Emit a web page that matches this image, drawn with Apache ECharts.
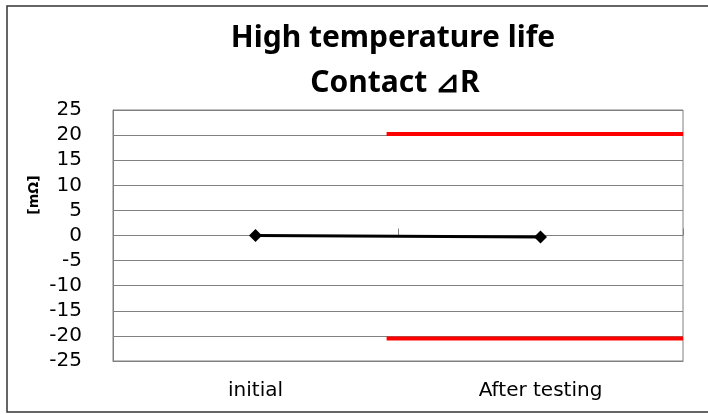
<!DOCTYPE html>
<html>
<head>
<meta charset="utf-8">
<script src="https://cdn.jsdelivr.net/npm/echarts@6/dist/echarts.min.js"></script>
<style>
  html, body { margin: 0; padding: 0; background: #fff; }
  #chart { width: 708px; height: 414px; }
</style>
</head>
<body>
<div id="chart"></div>
<script>
// 数据
const categories = ["initial", "After testing"];
const contactDeltaR = [0, -0.3];
// 上下限（红线），x 用 0..2 的数值轴表示
const upperLimit = [[0.96, 20.2], [2, 20.2]];
const lowerLimit = [[0.96, -20.5], [2, -20.5]];
const yTicks = { min: -25, max: 25, interval: 5 };

const chart = echarts.init(document.getElementById("chart"));

const options = {
  backgroundColor: "#fff",
  animation: false,
  title: [
    {
      text: "High temperature life",
      left: 388,
      top: 18,
      textAlign: "center",
      textStyle: { fontFamily: "Noto Sans", fontWeight: "bold", fontSize: 30, color: "#000" },
    },
    {
      text: "Contact ⊿R",
      left: 390,
      top: 63,
      textAlign: "center",
      textStyle: { fontFamily: "Noto Sans", fontWeight: "bold", fontSize: 30, color: "#000" },
    },
  ],
  grid: {
    top: 110,
    bottom: 53,
    left: 113,
    right: 25,
    show: true,
    borderColor: "#808080",
    borderWidth: 1,
  },
  graphic: [
    {
      type: "rect",
      shape: { x: 7, y: 6, width: 710, height: 406 },
      style: { fill: "none", stroke: "#333", lineWidth: 1.5 },
      z: 100,
    },
    {
      // y 轴单位，竖排
      type: "text",
      x: 34,
      y: 195,
      rotation: Math.PI / 2,
      style: {
        text: "[mΩ]",
        fontFamily: "DejaVu Sans",
        fontWeight: "bold",
        fontSize: 14,
        fill: "#000",
        align: "center",
        verticalAlign: "middle",
      },
    },
  ],
  xAxis: [
    {
      type: "category",
      data: categories,
      position: "bottom",
      axisLine: { onZero: false, lineStyle: { color: "#808080" } },
      axisTick: { show: false },
      axisLabel: {
        color: "#000",
        fontFamily: "DejaVu Sans",
        fontSize: 20,
        margin: 20,
      },
    },
    {
      // 零线上的刻度
      type: "category",
      data: categories,
      position: "bottom",
      axisLine: { show: false, onZero: true },
      axisTick: { show: true, inside: true, length: 7, lineStyle: { color: "#808080" } },
      axisLabel: { show: false },
    },
    {
      type: "value",
      min: 0,
      max: 2,
      show: false,
    },
  ],
  yAxis: {
    type: "value",
    min: yTicks.min,
    max: yTicks.max,
    interval: yTicks.interval,
    axisLine: { show: true, lineStyle: { color: "#808080" } },
    axisTick: { show: false },
    splitLine: { lineStyle: { color: "#808080", width: 1 } },
    axisLabel: {
      color: "#000",
      fontFamily: "DejaVu Sans",
      fontSize: 20,
      margin: 31,
    },
  },
  series: [
    {
      name: "upper",
      type: "line",
      xAxisIndex: 2,
      data: upperLimit,
      symbol: "none",
      lineStyle: { color: "#ff0000", width: 4 },
    },
    {
      name: "lower",
      type: "line",
      xAxisIndex: 2,
      data: lowerLimit,
      symbol: "none",
      lineStyle: { color: "#ff0000", width: 4 },
    },
    {
      name: "Contact ΔR",
      type: "line",
      xAxisIndex: 0,
      data: contactDeltaR,
      symbol: "diamond",
      symbolSize: 13,
      itemStyle: { color: "#000" },
      lineStyle: { color: "#000", width: 3 },
      z: 5,
    },
  ],
};

chart.setOption(options);
</script>
</body>
</html>
